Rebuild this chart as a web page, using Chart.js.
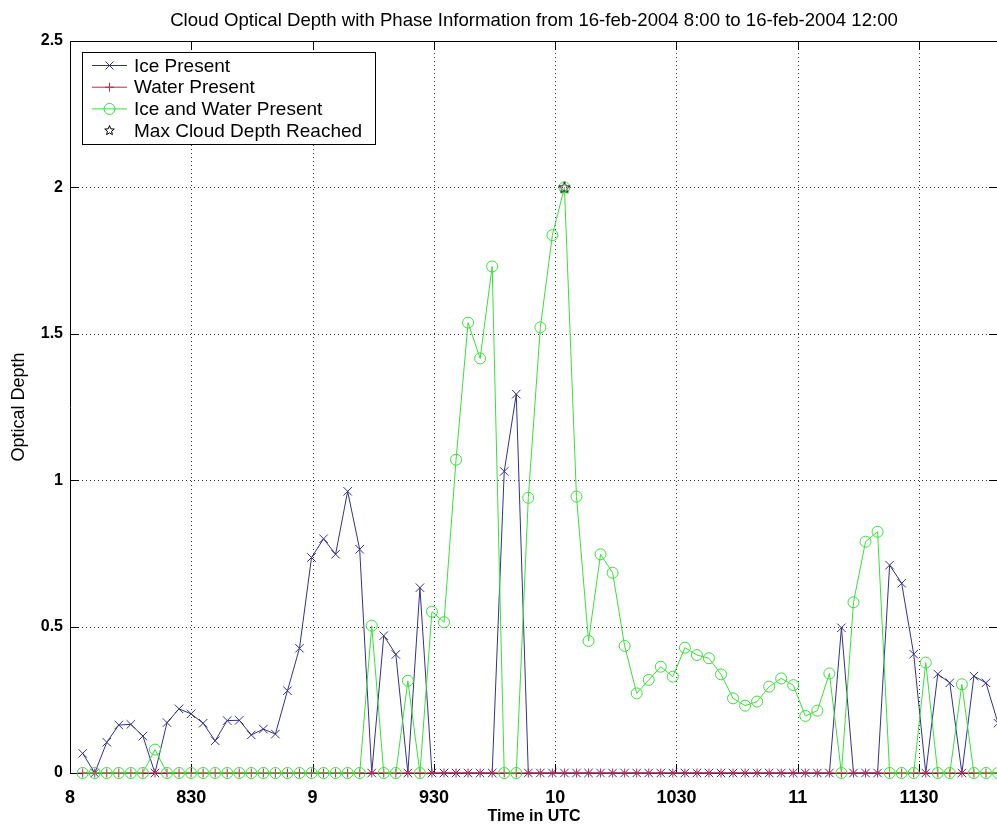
<!DOCTYPE html>
<html>
<head>
<meta charset="utf-8">
<script src="https://cdn.jsdelivr.net/npm/chart.js@4.4.1/dist/chart.umd.min.js"></script>
<style>
  html, body { margin: 0; padding: 0; background: #ffffff; overflow: hidden; }
  #wrap { width: 1000px; height: 825px; position: relative; }
  canvas { display: block; }
</style>
</head>
<body>
<div id="wrap"><canvas id="c" width="1000" height="825"></canvas></div>
<script>
// ---- Data ----
const chartTitle = 'Cloud Optical Depth with Phase Information from 16-feb-2004 8:00 to 16-feb-2004 12:00';
const xAxisTitle = 'Time in UTC';
const yAxisTitle = 'Optical Depth';

// sample times in decimal hours (UTC)
const times = [
  8.0523, 8.1019, 8.1516, 8.2012, 8.2509, 8.3005, 8.3502, 8.3998, 8.4495, 8.4991,
  8.5488, 8.5984, 8.6480, 8.6977, 8.7473, 8.7970, 8.8466, 8.8963, 8.9459, 8.9956,
  9.0452, 9.0948, 9.1445, 9.1941, 9.2438, 9.2934, 9.3431, 9.3927, 9.4424, 9.4920,
  9.5417, 9.5913, 9.6409, 9.6906, 9.7402, 9.7899, 9.8395, 9.8892, 9.9388, 9.9885,
  10.0381, 10.0877, 10.1374, 10.1870, 10.2367, 10.2863, 10.3360, 10.3856, 10.4353, 10.4849,
  10.5346, 10.5842, 10.6338, 10.6835, 10.7331, 10.7828, 10.8324, 10.8821, 10.9317, 10.9814,
  11.0310, 11.0806, 11.1303, 11.1799, 11.2296, 11.2792, 11.3289, 11.3785, 11.4282, 11.4778,
  11.5275, 11.5771, 11.6267, 11.6764, 11.7260, 11.7757, 11.8253
];

const icePresent = [
  0.067, 0, 0.105, 0.164, 0.166, 0.126, 0, 0.172, 0.219, 0.202,
  0.17, 0.11, 0.179, 0.18, 0.13, 0.15, 0.133, 0.281, 0.426, 0.736,
  0.80, 0.747, 0.962, 0.764, 0, 0.469, 0.405, 0, 0.633, 0,
  0, 0, 0, 0, 0, 1.03, 1.294, 0, 0, 0,
  0, 0, 0, 0, 0, 0, 0, 0, 0, 0,
  0, 0, 0, 0, 0, 0, 0, 0, 0, 0,
  0, 0, 0, 0.496, 0, 0, 0, 0.71, 0.648, 0.406,
  0, 0.338, 0.308, 0, 0.331, 0.308, 0.17
];

const waterPresent = [
  0, 0, 0, 0, 0, 0, 0, 0, 0, 0,
  0, 0, 0, 0, 0, 0, 0, 0, 0, 0,
  0, 0, 0, 0, 0, 0, 0, 0, 0, 0,
  0, 0, 0, 0, 0, 0, 0, 0, 0, 0,
  0, 0, 0, 0, 0, 0, 0, 0, 0, 0,
  0, 0, 0, 0, 0, 0, 0, 0, 0, 0,
  0, 0, 0, 0, 0, 0, 0, 0, 0, 0,
  0, 0, 0, 0, 0, 0, 0
];

const iceAndWater = [
  0, 0, 0, 0, 0, 0, 0.08, 0, 0, 0,
  0, 0, 0, 0, 0, 0, 0, 0, 0, 0,
  0, 0, 0, 0, 0.503, 0, 0, 0.315, 0, 0.551,
  0.515, 1.07, 1.538, 1.416, 1.73, 0, 0, 0.94, 1.522, 1.837,
  2.0, 0.944, 0.451, 0.747, 0.684, 0.434, 0.272, 0.318, 0.363, 0.329,
  0.428, 0.403, 0.392, 0.337, 0.255, 0.23, 0.244, 0.295, 0.323, 0.30,
  0.195, 0.213, 0.34, 0, 0.583, 0.79, 0.824, 0, 0, 0,
  0.377, 0, 0, 0.303, 0, 0, 0
];

const seriesLabels = ['Ice Present', 'Water Present', 'Ice and Water Present', 'Max Cloud Depth Reached'];

const xTickValues = [8, 8.5, 9, 9.5, 10, 10.5, 11, 11.5];
const xTickLabels = ['8', '830', '9', '930', '10', '1030', '11', '1130'];
const yTickValues = [0, 0.5, 1, 1.5, 2, 2.5];
const yTickLabels = ['0', '0.5', '1', '1.5', '2', '2.5'];

// ---- Styling ----
const FONT = '"Liberation Sans", Arial, Helvetica, sans-serif';
const COL_ICE = '#32328c';
const COL_WATER = '#cc2244';
const COL_BOTH = '#38e038';

function toPoints(vals) { return vals.map((v, i) => ({ x: times[i], y: v })); }

// index of the maximum of the combined phase series -> star marker
let maxIdx = 0;
iceAndWater.forEach((v, i) => { if (v > iceAndWater[maxIdx]) maxIdx = i; });
const maxPoint = [{ x: times[maxIdx], y: iceAndWater[maxIdx] }];

function starPath(ctx, cx, cy, R, r) {
  ctx.beginPath();
  for (let k = 0; k < 10; k++) {
    const rad = (k % 2 === 0) ? R : r;
    const a = -Math.PI / 2 + k * Math.PI / 5;
    const px = cx + rad * Math.cos(a), py = cy + rad * Math.sin(a);
    if (k === 0) ctx.moveTo(px, py); else ctx.lineTo(px, py);
  }
  ctx.closePath();
}
const starImg = document.createElement('canvas');
starImg.width = 14; starImg.height = 14;
(function () {
  const g = starImg.getContext('2d');
  g.strokeStyle = '#000'; g.lineWidth = 1;
  starPath(g, 7, 7.5, 6, 2.6);
  g.stroke();
})();

function drawMarker(ctx, style, color, x, y) {
  ctx.save();
  ctx.strokeStyle = color; ctx.lineWidth = 1;
  if (style === 'crossRot') {
    const d = 4;
    ctx.beginPath();
    ctx.moveTo(x - d, y - d); ctx.lineTo(x + d, y + d);
    ctx.moveTo(x - d, y + d); ctx.lineTo(x + d, y - d);
    ctx.stroke();
  } else if (style === 'cross') {
    const d = 4.5;
    ctx.beginPath();
    ctx.moveTo(x - d, y); ctx.lineTo(x + d, y);
    ctx.moveTo(x, y - d); ctx.lineTo(x, y + d);
    ctx.stroke();
  } else if (style === 'circle') {
    ctx.beginPath(); ctx.arc(x, y, 5.5, 0, Math.PI * 2); ctx.stroke();
  } else if (style === 'star') {
    ctx.strokeStyle = '#000';
    starPath(ctx, x, y, 5, 2.2); ctx.stroke();
  }
  ctx.restore();
}

// grid (dotted), top/right box lines, inward ticks
const matlabAxes = {
  id: 'matlabAxes',
  beforeDatasetsDraw(chart) {
    const { ctx, chartArea: a, scales: { x, y } } = chart;
    ctx.save();
    ctx.strokeStyle = '#333';
    ctx.lineWidth = 1;
    ctx.setLineDash([1, 3]);
    xTickValues.forEach(v => {
      const px = Math.round(x.getPixelForValue(v)) + 0.5;
      if (px <= a.left + 1) return;
      ctx.beginPath(); ctx.moveTo(px, a.top); ctx.lineTo(px, a.bottom); ctx.stroke();
    });
    yTickValues.forEach(v => {
      const py = Math.round(y.getPixelForValue(v)) + 0.5;
      if (py >= a.bottom - 1 || py <= a.top + 1) return;
      ctx.beginPath(); ctx.moveTo(a.left, py); ctx.lineTo(a.right, py); ctx.stroke();
    });
    ctx.setLineDash([]);
    ctx.strokeStyle = '#000';
    const tl = 9;
    xTickValues.forEach(v => {
      const px = Math.round(x.getPixelForValue(v)) + 0.5;
      ctx.beginPath();
      ctx.moveTo(px, a.bottom); ctx.lineTo(px, a.bottom - tl);
      ctx.moveTo(px, a.top); ctx.lineTo(px, a.top + tl);
      ctx.stroke();
    });
    yTickValues.forEach(v => {
      const py = Math.round(y.getPixelForValue(v)) + 0.5;
      ctx.beginPath();
      ctx.moveTo(a.left, py); ctx.lineTo(a.left + tl, py);
      ctx.moveTo(a.right, py); ctx.lineTo(a.right - tl, py);
      ctx.stroke();
    });
    // top and right box lines
    ctx.beginPath();
    ctx.moveTo(a.left, Math.round(a.top) + 0.5); ctx.lineTo(a.right, Math.round(a.top) + 0.5);
    ctx.moveTo(Math.round(a.right) - 0.5, a.top); ctx.lineTo(Math.round(a.right) - 0.5, a.bottom);
    ctx.stroke();
    ctx.restore();
  }
};

// Matlab-style legend box inside the axes
const matlabLegend = {
  id: 'matlabLegend',
  afterDraw(chart) {
    const { ctx, chartArea: a } = chart;
    const x0 = Math.round(a.left) + 12, y0 = Math.round(a.top) + 11;
    const w = 293, h = 92;
    ctx.save();
    ctx.fillStyle = '#fff';
    ctx.fillRect(x0, y0, w, h);
    ctx.strokeStyle = '#000'; ctx.lineWidth = 1;
    ctx.strokeRect(x0 + 0.5, y0 + 0.5, w, h);
    ctx.font = '19px ' + FONT;
    ctx.textBaseline = 'middle';
    ctx.textAlign = 'left';
    chart.data.datasets.forEach((ds, i) => {
      const cy = y0 + 13.5 + i * 21.7;
      if (ds.showLine !== false) {
        ctx.strokeStyle = ds.borderColor; ctx.lineWidth = 1;
        ctx.beginPath(); ctx.moveTo(x0 + 10, cy); ctx.lineTo(x0 + 45, cy); ctx.stroke();
      }
      drawMarker(ctx, ds.legendMarker, ds.borderColor, x0 + 27.5, cy);
      ctx.fillStyle = '#000';
      ctx.fillText(ds.label, x0 + 52, cy + 1);
    });
    ctx.restore();
  }
};

const ctx = document.getElementById('c').getContext('2d');
new Chart(ctx, {
  type: 'line',
  data: {
    datasets: [
      {
        label: seriesLabels[0], data: toPoints(icePresent),
        borderColor: COL_ICE, backgroundColor: COL_ICE, borderWidth: 1,
        pointStyle: 'crossRot', pointRadius: 6, pointBorderWidth: 1,
        pointBorderColor: COL_ICE, pointBackgroundColor: 'rgba(0,0,0,0)',
        tension: 0, fill: false, order: 3, clip: false, legendMarker: 'crossRot'
      },
      {
        label: seriesLabels[1], data: toPoints(waterPresent),
        borderColor: COL_WATER, backgroundColor: COL_WATER, borderWidth: 1,
        pointStyle: 'cross', pointRadius: 4.5, pointBorderWidth: 1,
        pointBorderColor: COL_WATER, pointBackgroundColor: 'rgba(0,0,0,0)',
        tension: 0, fill: false, order: 2, clip: false, legendMarker: 'cross'
      },
      {
        label: seriesLabels[2], data: toPoints(iceAndWater),
        borderColor: COL_BOTH, backgroundColor: COL_BOTH, borderWidth: 1,
        pointStyle: 'circle', pointRadius: 5.5, pointBorderWidth: 1,
        pointBorderColor: COL_BOTH, pointBackgroundColor: 'rgba(0,0,0,0)',
        tension: 0, fill: false, order: 1, clip: false, legendMarker: 'circle'
      },
      {
        label: seriesLabels[3], data: maxPoint,
        borderColor: '#000', backgroundColor: '#000', showLine: false,
        pointStyle: starImg, pointRadius: 6, order: 0, clip: false, legendMarker: 'star'
      }
    ]
  },
  options: {
    responsive: false,
    animation: false,
    events: [],
    devicePixelRatio: 1,
    layout: { autoPadding: false, padding: { left: 0, right: 2, top: 0, bottom: 0 } },
    plugins: {
      legend: { display: false },
      tooltip: { enabled: false },
      title: {
        display: true, text: chartTitle, fullSize: false, color: '#000',
        font: { family: FONT, size: 18.6, weight: 'normal', lineHeight: 1.2 },
        padding: { top: 10, bottom: 8.7 }
      }
    },
    scales: {
      x: {
        type: 'linear', min: 8, max: times[times.length - 1],
        afterBuildTicks(scale) { scale.ticks = xTickValues.map(v => ({ value: v })); },
        afterFit(scale) { scale.height = 52; scale.paddingLeft = 0; scale.paddingRight = 0; },
        grid: { display: false, drawTicks: false },
        border: { display: true, color: '#000', width: 1 },
        ticks: {
          autoSkip: false, maxRotation: 0, padding: 14, color: '#000',
          font: { family: FONT, size: 18, weight: 'bold' },
          callback: (v, i) => xTickLabels[i]
        },
        title: {
          display: true, text: xAxisTitle, color: '#000',
          font: { family: FONT, size: 16, weight: 'bold', lineHeight: 1 },
          padding: { top: 0, bottom: 0 }
        }
      },
      y: {
        type: 'linear', min: 0, max: 2.5,
        afterBuildTicks(scale) { scale.ticks = yTickValues.map(v => ({ value: v })); },
        afterFit(scale) { scale.width = 70; scale.paddingTop = 0; scale.paddingBottom = 0; },
        grid: { display: false, drawTicks: false },
        border: { display: true, color: '#000', width: 1 },
        ticks: {
          autoSkip: false, padding: 7, color: '#000',
          font: { family: FONT, size: 16, weight: 'bold' },
          callback: (v, i) => yTickLabels[i]
        },
        title: {
          display: true, text: yAxisTitle, color: '#000',
          font: { family: FONT, size: 18, weight: 'normal', lineHeight: 1.2 },
          padding: { top: 8, bottom: 0 }
        }
      }
    }
  },
  plugins: [matlabAxes, matlabLegend]
});
</script>
</body>
</html>
